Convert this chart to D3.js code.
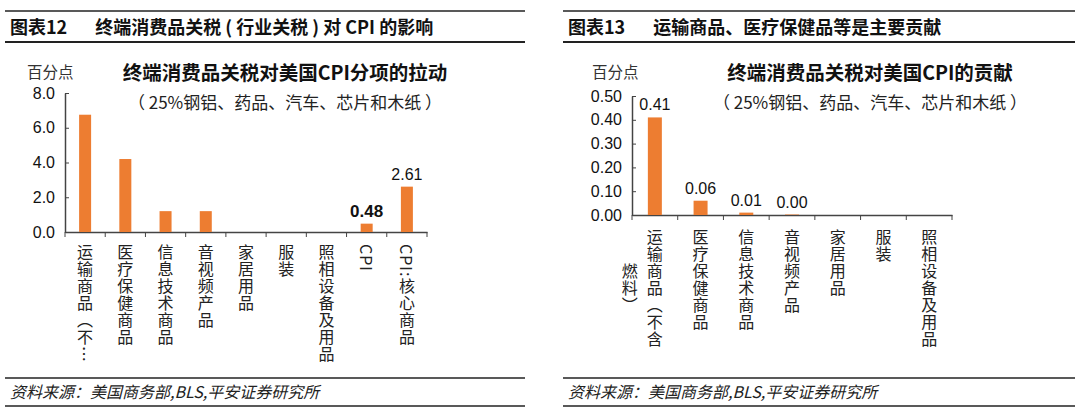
<!DOCTYPE html>
<html><head><meta charset="utf-8">
<script src="https://cdn.jsdelivr.net/npm/d3@7"></script>
<style>body{margin:0;background:#fff}text{font-family:"Noto Sans CJK SC",sans-serif}</style>
</head><body><svg id="c" width="1080" height="416"></svg>
<script>
const cats1 = ["运输商品（不⋯","医疗保健商品","信息技术商品","音视频产品","家居用品","服装","照相设备及用品","CPI","CPI:核心商品"];
const vals1 = [6.75,4.2,1.2,1.2,0,0,0,0.48,2.61];
const labels1 = [null,null,null,null,null,null,null,"0.48","2.61"];
const ticks1 = [0,2,4,6,8];
const cats2 = [["运输商品（不含","燃料）"],["医疗保健商品"],["信息技术商品"],["音视频产品"],["家居用品"],["服装"],["照相设备及用品"]];
const vals2 = [0.41,0.06,0.01,0.002,0,0,0];
const labels2 = ["0.41","0.06","0.01","0.00",null,null,null];
const ticks2 = [0,0.1,0.2,0.3,0.4,0.5];

const svg = d3.select("#c");
const orange = "#ED7D31", ax = "#444";

function header(x0,x1,t1,t2){
  svg.append("line").attr("x1",x0).attr("x2",x1).attr("y1",11).attr("y2",11).attr("stroke","#222").attr("stroke-width",1.5);
  svg.append("line").attr("x1",x0).attr("x2",x1).attr("y1",42).attr("y2",42).attr("stroke","#222").attr("stroke-width",2);
  const t = svg.append("text").attr("x",x0+5).attr("y",34).attr("font-size",18).attr("font-weight","bold").attr("fill","#111");
  t.append("tspan").text(t1);
  t.append("tspan").attr("dx",28).text(t2);
  svg.append("line").attr("x1",x0).attr("x2",x1).attr("y1",378).attr("y2",378).attr("stroke","#222").attr("stroke-width",1.5);
  svg.append("line").attr("x1",x0).attr("x2",x1).attr("y1",406).attr("y2",406).attr("stroke","#222").attr("stroke-width",1.5);
  svg.append("text").attr("x",x0+5).attr("y",398).attr("font-size",16).attr("font-style","italic").attr("fill","#222").text("资料来源：美国商务部,BLS,平安证券研究所");
}
header(5,525,"图表12","终端消费品关税 ( 行业关税 ) 对 CPI 的影响");
header(563,1075,"图表13","运输商品、医疗保健品等是主要贡献");

function chart(o){
  const x = d3.scaleBand().domain(o.cats.map((d,i)=>i)).range([o.x0,o.x1]);
  const y = d3.scaleLinear().domain([0,o.max]).range([o.yb,o.yt]);
  const g = svg.append("g");
  svg.append("text").attr("x",o.unitX).attr("y",78).attr("font-size",15.5).attr("fill","#333").text("百分点");
  svg.append("text").attr("x",o.tc).attr("y",80).attr("text-anchor","middle").attr("font-size",19.5).attr("font-weight","bold").attr("fill","#111").text(o.title);
  svg.append("text").attr("x",o.tc).attr("y",109).attr("text-anchor","middle").attr("font-size",17).attr("fill","#222").text("（ 25%钢铝、药品、汽车、芯片和木纸 ）");
  const ya = g.append("g").attr("transform",`translate(${o.x0},0)`).call(d3.axisLeft(y).tickValues(o.ticks).tickFormat(d3.format(o.fmt)).tickSizeInner(-4).tickSizeOuter(0).tickPadding(10));
  ya.selectAll("text").attr("font-size",16).attr("fill","#111").style("font-family","Liberation Sans, Arial");
  const xa = g.append("g").attr("transform",`translate(0,${o.yb})`).call(d3.axisBottom(x).tickValues([]).tickSizeOuter(0));
  g.selectAll(".xt").data(d3.range(o.cats.length+1)).join("line").attr("x1",i=>o.x0+i*x.step()).attr("x2",i=>o.x0+i*x.step()).attr("y1",o.yb).attr("y2",o.yb+5).attr("stroke",ax);
  g.selectAll(".domain").attr("stroke",ax).attr("stroke-width",1.5);
  g.selectAll(".tick line").attr("stroke",ax);
  const bw = o.bw;
  g.selectAll("rect").data(o.vals).join("rect").attr("x",(d,i)=>x(i)+x.bandwidth()/2-bw/2).attr("width",bw).attr("y",d=>y(d)).attr("height",d=>o.yb-y(d)).attr("fill",orange);
  o.vals.forEach((v,i)=>{ if(o.labels[i]) svg.append("text").attr("x",x(i)+x.bandwidth()/2).attr("y",y(v)-7).attr("text-anchor","middle").attr("font-size",o.labels[i]==="0.48"?17:16).attr("font-weight",o.labels[i]==="0.48"?"bold":"normal").style("font-family","Liberation Sans, Arial").attr("fill","#111").text(o.labels[i]);});
  o.cats.forEach((c,i)=>{
    const lines = Array.isArray(c)?c:[c];
    lines.forEach((s,j)=>{
      svg.append("text").attr("x",x(i)+x.bandwidth()/2-j*25).attr("y",o.ly+j*34).style("writing-mode","vertical-rl").attr("font-size",16).attr("fill","#222").attr("letter-spacing",1).text(s);
    });
  });
}
chart({cats:cats1,vals:vals1,labels:labels1,ticks:ticks1,max:8,fmt:".1f",x0:65,x1:427,yt:93,yb:232,bw:12,ly:244,unitX:27,tc:285,title:"终端消费品关税对美国CPI分项的拉动"});
chart({cats:cats2,vals:vals2,labels:labels2,ticks:ticks2,max:0.5,fmt:".2f",x0:632,x1:952,yt:96,yb:215,bw:14,ly:229,unitX:592,tc:870,title:"终端消费品关税对美国CPI的贡献"});
</script></body></html>
